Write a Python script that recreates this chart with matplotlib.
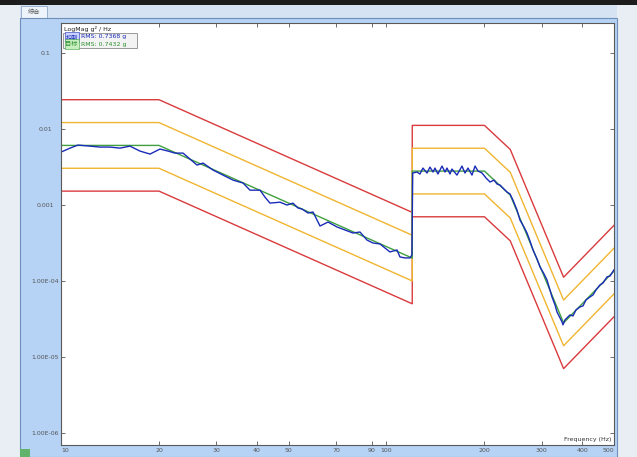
import matplotlib.pyplot as plt
import numpy as np
from matplotlib.patches import Rectangle
from matplotlib.ticker import FixedLocator, FixedFormatter, NullLocator

# reference profile (target), g^2/Hz
ref_f = [10, 20, 120, 120, 200, 240, 350, 500]
ref_psd = [0.0061, 0.0061, 0.0002, 0.0028, 0.0028, 0.00135, 2.8e-5, 1.35e-4]

# alarm / abort limits as factors of the reference
alarm_fac = [2.0, 0.5]
abort_fac = [4.0, 0.25]

ctrl_f = [10, 10.66, 11.27, 12.28, 13.18, 14.14, 15.18, 16.29, 17.48, 18.77,
          20.14, 21.32, 22.39, 23.71, 24.91, 26.17, 27.31, 29.31, 31.46, 33.76,
          36.24, 38.07, 40.87, 42.34, 43.86, 47.08, 49.46, 51.6, 53.46, 55.0,
          57.4, 59.47, 62.49, 66.13, 70.46, 74.57, 78.9, 82.9, 87.1, 90.9,
          95.5, 98.9, 102.5, 107.7, 110.0, 114.0, 118.1, 119.7, 120.4, 124.1,
          126.7, 129.4, 133.2, 136.0, 139.0, 140.9, 143.9, 148.1, 151.3, 153.4,
          156.7, 158.9, 164.6, 170.6, 174.2, 178.0, 183.1, 187.1, 191.1, 196.6,
          202.2, 208.0, 214.0, 218.6, 223.3, 228.1, 234.6, 239.6, 244.7, 251.7,
          257.1, 264.5, 270.2, 276.0, 281.9, 290.0, 296.2, 304.7, 311.2, 317.9,
          322.4, 329.4, 334.0, 341.2, 346.1, 348.5, 353.5, 358.5, 366.3, 374.1,
          382.1, 393.1, 401.5, 410.2, 422.0, 431.0, 440.3, 452.9, 462.6, 475.9,
          486.1, 500]
ctrl_psd = [0.00498, 0.00562, 0.00616, 0.00597, 0.00580, 0.00580, 0.00562, 0.00597, 0.00514, 0.00469,
            0.00546, 0.00514, 0.00483, 0.00483, 0.00403, 0.00336, 0.00357, 0.00289, 0.00248, 0.00213,
            0.00195, 0.00157, 0.00157, 0.00127, 0.00106, 0.00109, 0.00100, 0.00106, 0.000914, 0.000886,
            0.000785, 0.000809, 0.000529, 0.000597, 0.000514, 0.000469, 0.000428, 0.000441, 0.000346, 0.000316,
            0.000307, 0.000272, 0.000241, 0.000256, 0.000207, 0.000201, 0.000201, 0.00022, 0.00264, 0.00272,
            0.00256, 0.00307, 0.00264, 0.00316, 0.00272, 0.00307, 0.00256, 0.00326, 0.00272, 0.00307,
            0.00256, 0.00298, 0.00248, 0.00326, 0.00264, 0.00307, 0.00248, 0.00326, 0.0028, 0.00264,
            0.00227, 0.00201, 0.00213, 0.00189, 0.00183, 0.00167, 0.00148, 0.00140, 0.00116, 0.00086,
            0.000635, 0.000513, 0.000428, 0.000336, 0.000256, 0.000195, 0.000153, 0.000124, 0.000103, 7.61e-5,
            6.16e-5, 4.83e-5, 3.91e-5, 3.26e-5, 2.89e-5, 2.64e-5, 3.07e-5, 3.26e-5, 3.57e-5, 3.46e-5,
            4.15e-5, 4.55e-5, 4.69e-5, 5.62e-5, 6.16e-5, 6.54e-5, 7.61e-5, 8.86e-5, 9.41e-5, 0.000113,
            0.000116, 0.000140]

xticks = [10, 20, 30, 40, 50, 70, 90, 100, 200, 300, 400, 500]
yticks = [1e-6, 1e-5, 1e-4, 1e-3, 1e-2, 1e-1]
ytick_labels = ['1.00E-06', '1.00E-05', '1.00E-04', '0.001', '0.01', '0.1']

W, H = 637, 457
fig = plt.figure(figsize=(W / 100, H / 100), dpi=100, facecolor='#e8eef4')

def px_rect(x0, y0, x1, y1, **kw):
    # rectangle given in screen pixels (top-left origin), behind the axes
    fig.add_artist(Rectangle((x0 / W, 1 - y1 / H), (x1 - x0) / W, (y1 - y0) / H,
                             transform=fig.transFigure, zorder=-5, **kw))

px_rect(0, 0, W, 5, color='#1c1c1c', lw=0)
px_rect(20, 5, 617, 18, color='#d5e3f3', lw=0)
px_rect(21, 6, 47, 18, facecolor='#eef4fb', edgecolor='#8fa9c8', lw=0.6)
fig.text(34 / W, 1 - 12 / H, '综合', fontsize=4.5, ha='center', va='center',
         color='#555555', family=['Noto Sans CJK SC', 'DejaVu Sans'])
px_rect(20, 18, 617, H, facecolor='#b6d3f6', edgecolor='#6f8fb8', lw=0.8)
px_rect(20, 449, 30, H, color='#5fb36a', lw=0)

ax = fig.add_axes([61 / W, 12 / H, 553 / W, 422 / H])
ax.set_zorder(5)
ax.set_facecolor('white')
ax.set_xscale('log')
ax.set_yscale('log')
ax.set_xlim(10, 500)
ax.set_ylim(6.9e-7, 0.25)

ref_f_arr = np.array(ref_f)
ref_psd_arr = np.array(ref_psd)
for k in abort_fac:
    ax.plot(ref_f_arr, ref_psd_arr * k, color='#d93a3d', lw=1.0)
for k in alarm_fac:
    ax.plot(ref_f_arr, ref_psd_arr * k, color='#f0b530', lw=1.0)
ax.plot(ref_f_arr, ref_psd_arr, color='#3f9f3f', lw=1.0)
ax.plot(ctrl_f, ctrl_psd, color='#1a2bb8', lw=1.0)

ax.xaxis.set_major_locator(FixedLocator(xticks))
ax.xaxis.set_major_formatter(FixedFormatter([str(v) for v in xticks]))
ax.xaxis.set_minor_locator(NullLocator())
ax.yaxis.set_major_locator(FixedLocator(yticks))
ax.yaxis.set_major_formatter(FixedFormatter(ytick_labels))
ax.yaxis.set_minor_locator(NullLocator())
ax.tick_params(direction='in', length=3, width=0.6, top=True, right=True,
               labelsize=4.5, labelcolor='#555555', color='#555555')
ax.tick_params(axis='y', pad=11.5)
ax.tick_params(axis='x', pad=2)
for lab in ax.get_yticklabels():
    lab.set_horizontalalignment('center')
xlabs = ax.get_xticklabels()
xlabs[0].set_horizontalalignment('left')
xlabs[-1].set_horizontalalignment('right')
for s in ax.spines.values():
    s.set_color('#5a5a5a')
    s.set_linewidth(0.8)

ax.text(0.006, 0.992, 'LogMag g² / Hz', transform=ax.transAxes, fontsize=4.5,
        ha='left', va='top', color='#222222')
ax.text(0.995, 0.006, 'Frequency (Hz)', transform=ax.transAxes, fontsize=4.5,
        ha='right', va='bottom', color='#333333')

# legend box
ax.add_patch(Rectangle((0.0036, 0.9408), 0.134, 0.0355, transform=ax.transAxes,
                       facecolor='#f3f3f3', edgecolor='#8a8a8a', lw=0.6, zorder=5))
cjk = ['Noto Sans CJK SC', 'DejaVu Sans']
ax.text(0.008, 0.967, '控制', transform=ax.transAxes, fontsize=4.5, va='center',
        color='#1a2bb8', family=cjk, zorder=6,
        bbox=dict(boxstyle='square,pad=0.1', fc='#c9d2ff', ec='#1a2bb8', lw=0.4))
ax.text(0.036, 0.967, 'RMS: 0.7368 g', transform=ax.transAxes, fontsize=4.5,
        va='center', color='#1a2bb8', zorder=6)
ax.text(0.008, 0.950, '目标', transform=ax.transAxes, fontsize=4.5, va='center',
        color='#2f8f2f', family=cjk, zorder=6,
        bbox=dict(boxstyle='square,pad=0.1', fc='#c8efc0', ec='#3f9f3f', lw=0.4))
ax.text(0.036, 0.950, 'RMS: 0.7432 g', transform=ax.transAxes, fontsize=4.5,
        va='center', color='#2f8f2f', zorder=6)

fig.savefig('out.png', dpi=100, facecolor=fig.get_facecolor())
